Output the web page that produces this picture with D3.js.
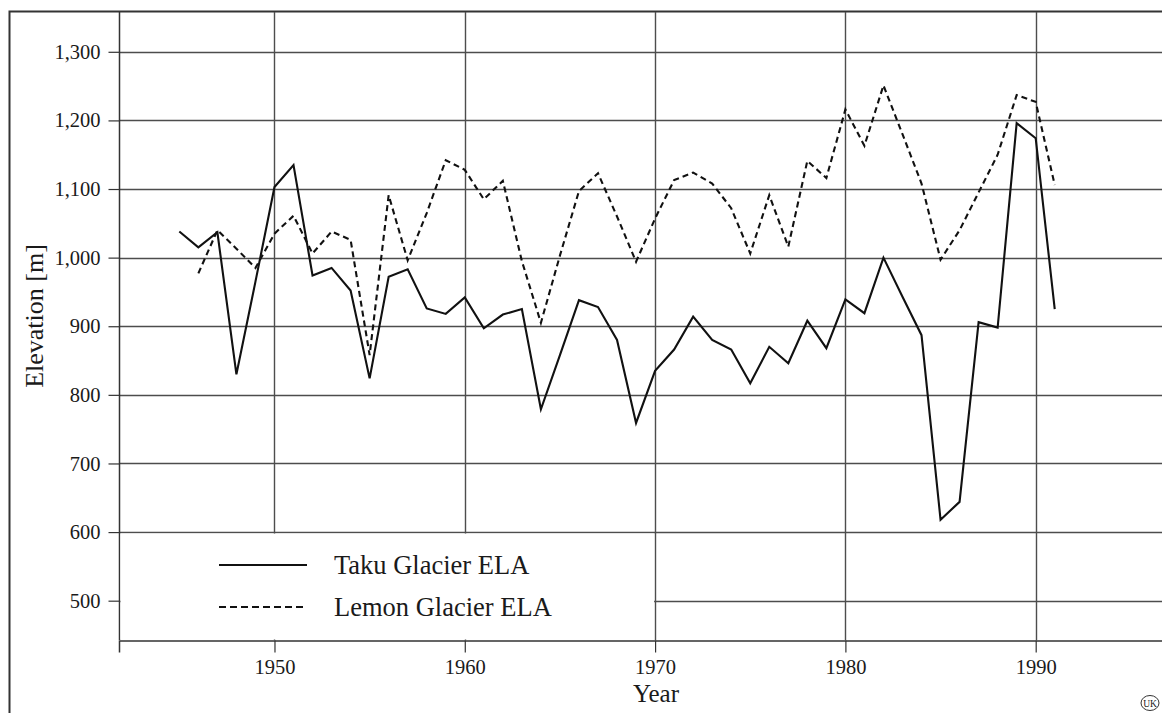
<!DOCTYPE html>
<html>
<head>
<meta charset="utf-8">
<script src="https://cdn.jsdelivr.net/npm/d3@7"></script>
<style>
  html, body { margin: 0; padding: 0; background: #fff; }
  svg { display: block; }
  text { font-family: "Liberation Serif", "Times New Roman", serif; fill: #1a1a1a; }
</style>
</head>
<body>
<svg id="chart" width="1162" height="713"></svg>
<script>
// Equilibrium-line altitudes (m) per year
const years = d3.range(1945, 1992);
const takuYears = years;
const takuELA = [
  1038, 1015, 1037, 830, 965, 1103, 1135, 974, 985, 952,
  824, 972, 983, 926, 918, 942, 897, 917, 925, 779,
  858, 938, 928, 880, 759, 835, 866, 914, 880, 866,
  817, 870, 846, 908, 868, 939, 919, 1000, 943, 887,
  618, 644, 906, 898, 1196, 1174, 925
];
const lemonYears = d3.range(1946, 1992);
const lemonELA = [
  977, 1040, 1013, 985, 1035, 1061, 1006, 1038, 1026,
  858, 1091, 996, 1065, 1142, 1128, 1085, 1112, 995, 905,
  1003, 1097, 1123, 1060, 994, 1057, 1113, 1124, 1108, 1072,
  1006, 1091, 1016, 1141, 1116, 1216, 1163, 1251, 1180, 1108,
  997, 1040, 1095, 1150, 1237, 1227, 1106
];
const yTicks = [500, 600, 700, 800, 900, 1000, 1100, 1200, 1300];
const xTicks = [1950, 1960, 1970, 1980, 1990];
const seriesNames = ["Taku Glacier ELA", "Lemon Glacier ELA"];

const serif = '"Liberation Serif", "Times New Roman", serif';
const svg = d3.select("#chart");
const plot = { left: 119, top: 12, right: 1175, bottom: 640 };

const x = d3.scaleLinear().domain([1941.83, 1997.32]).range([plot.left, plot.right]);
const y = d3.scaleLinear().domain([442.7, 1358]).range([plot.bottom, plot.top]);

const grid = "#4d4d4d";

// outer frame (left and top edges)
svg.append("path")
  .attr("d", `M9.5,713 V11.5 H1162`)
  .attr("fill", "none").attr("stroke", "#333").attr("stroke-width", 2);

// grid lines
const g = svg.append("g");
g.selectAll(".hg").data(yTicks).join("line")
  .attr("x1", plot.left).attr("x2", plot.right)
  .attr("y1", d => Math.round(y(d)) + 0.5).attr("y2", d => Math.round(y(d)) + 0.5)
  .attr("stroke", grid).attr("stroke-width", 1.4);
g.selectAll(".vg").data(xTicks).join("line")
  .attr("x1", d => Math.round(x(d)) + 0.5).attr("x2", d => Math.round(x(d)) + 0.5)
  .attr("y1", plot.top).attr("y2", plot.bottom)
  .attr("stroke", grid).attr("stroke-width", 1.4);

// axes
const yAxis = d3.axisLeft(y).tickValues(yTicks).tickSize(11).tickPadding(8)
  .tickFormat(d3.format(","));
const xAxis = d3.axisBottom(x).tickValues(xTicks).tickSize(12).tickPadding(7)
  .tickFormat(d3.format("d"));

const ya = svg.append("g").attr("transform", `translate(${plot.left + 0.5},0)`).call(yAxis);
const xa = svg.append("g").attr("transform", `translate(0,${plot.bottom + 0.5})`).call(xAxis);
[ya, xa].forEach(a => {
  a.attr("font-family", null);
  a.select(".domain").attr("stroke", "#333").attr("stroke-width", 1.5);
  a.selectAll(".tick line").attr("stroke", "#333").attr("stroke-width", 1.2);
  a.selectAll(".tick text").attr("font-size", 20.5)
    .style("font-family", serif).attr("fill", "#1a1a1a");
});
// extend the y axis line to the top frame
ya.select(".domain").attr("d", `M0,${plot.top}V${plot.bottom}`);

// legend panel
const lg = svg.append("g");
lg.append("rect")
  .attr("x", plot.left + 1.5).attr("y", y(600) + 1.5)
  .attr("width", x(1970) - plot.left - 2.5)
  .attr("height", plot.bottom - y(600) - 2)
  .attr("fill", "#fff");

// series lines
const line = d3.line().x(d => x(d[0])).y(d => y(d[1]));
const takuPts = takuYears.map((yr, i) => [yr, takuELA[i]]);
const lemonPts = lemonYears.map((yr, i) => [yr, lemonELA[i]]);

svg.append("path").datum(lemonPts).attr("d", line)
  .attr("fill", "none").attr("stroke", "#111").attr("stroke-width", 2.1)
  .attr("stroke-dasharray", "6,4").attr("stroke-linejoin", "miter");
svg.append("path").datum(takuPts).attr("d", line)
  .attr("fill", "none").attr("stroke", "#111").attr("stroke-width", 2.1)
  .attr("stroke-linejoin", "miter");

// legend entries
const legendRows = [
  { name: seriesNames[0], dash: null, ly: 565, ty: 574 },
  { name: seriesNames[1], dash: "7,4", ly: 607, ty: 616 }
];
legendRows.forEach(r => {
  lg.append("line").attr("x1", 219).attr("x2", 307).attr("y1", r.ly).attr("y2", r.ly)
    .attr("stroke", "#111").attr("stroke-width", 2.2)
    .attr("stroke-dasharray", r.dash);
  lg.append("text").attr("x", 334).attr("y", r.ty).attr("font-size", 26.5)
    .style("font-family", serif).text(r.name);
});

// axis titles
svg.append("text").attr("x", 656).attr("y", 702).attr("text-anchor", "middle")
  .attr("font-size", 25).style("font-family", serif).text("Year");
svg.append("text").attr("transform", "translate(43,316) rotate(-90)")
  .attr("text-anchor", "middle").attr("font-size", 26)
  .style("font-family", serif).text("Elevation [m]");

// small circled mark at the lower right
const mk = svg.append("g").attr("transform", "translate(1150,703)");
mk.append("ellipse").attr("rx", 9).attr("ry", 7.5).attr("fill", "none")
  .attr("stroke", "#333").attr("stroke-width", 1);
mk.append("text").attr("text-anchor", "middle").attr("y", 3.5)
  .attr("font-size", 9.5).style("font-family", serif).text("UK");
</script>
</body>
</html>
